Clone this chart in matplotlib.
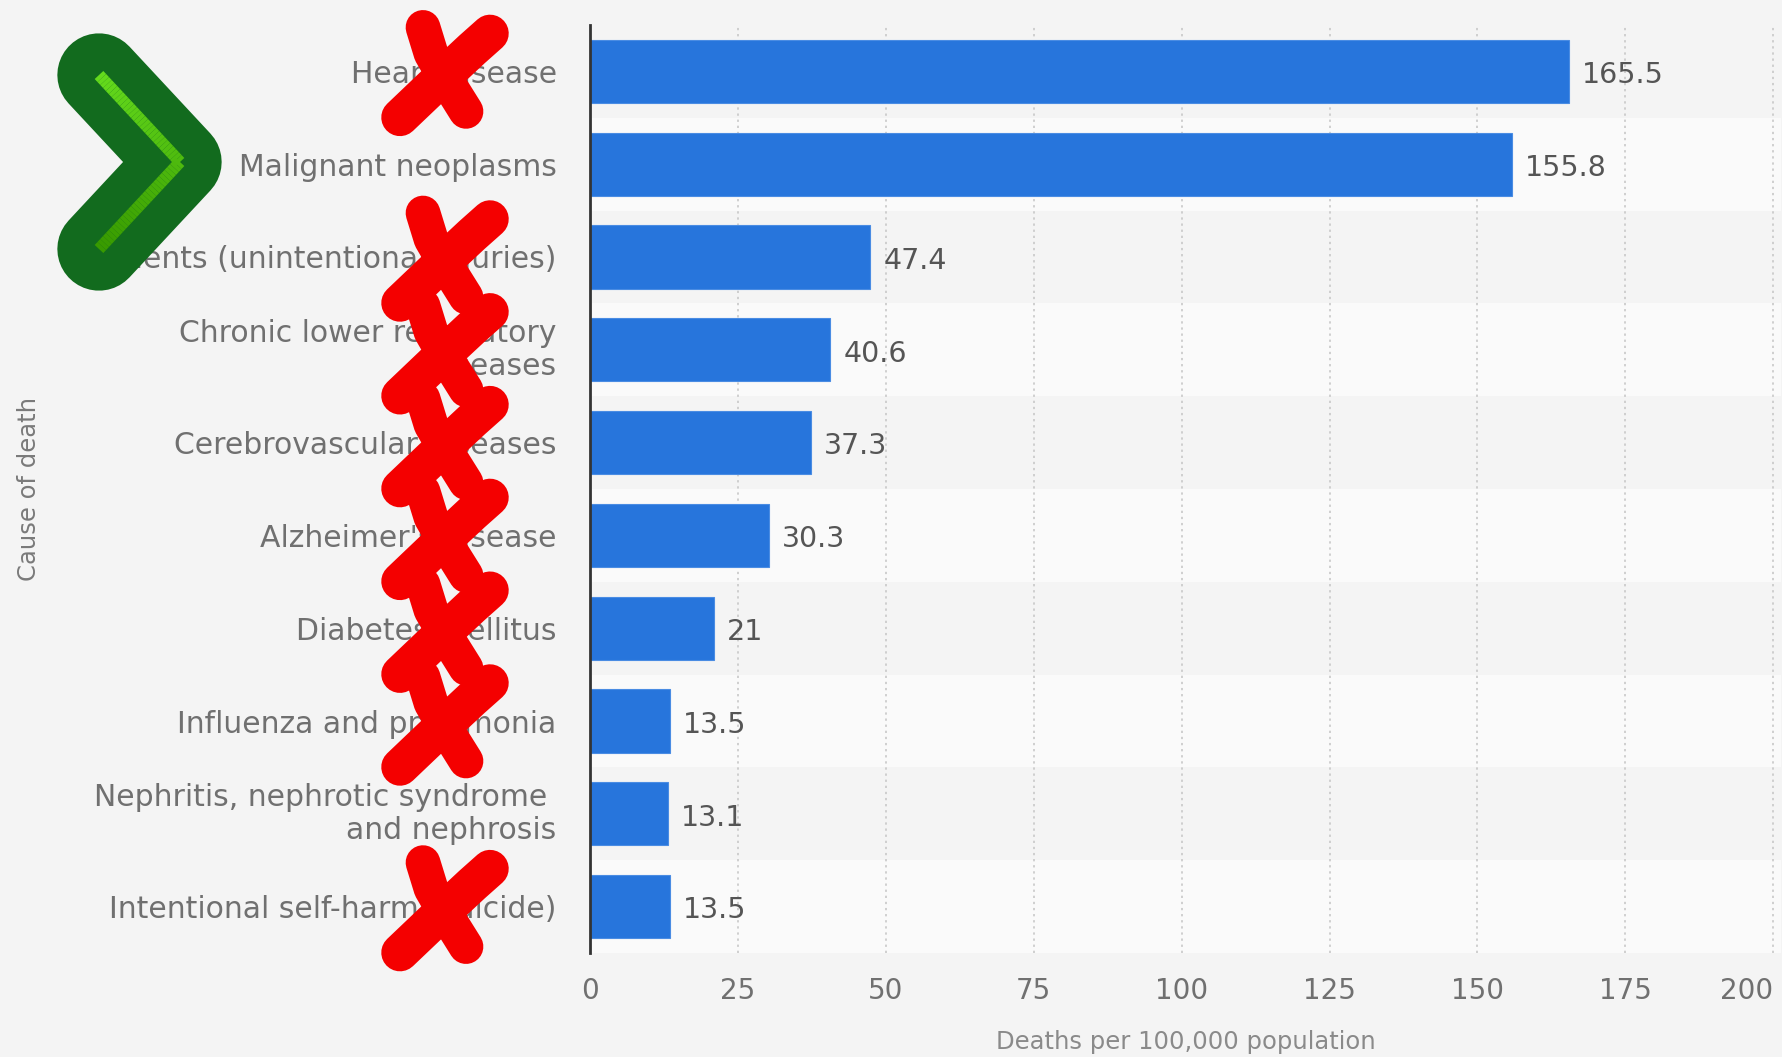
import numpy as np
import matplotlib
matplotlib.use('Agg')
from matplotlib import pyplot as plt
from matplotlib import transforms
from matplotlib.lines import Line2D
from matplotlib.collections import LineCollection

# ------------------------------------------------
# DATA
causes = ['Heart disease',
          'Malignant neoplasms',
          'Accidents (unintentional injuries)',
          'Chronic lower respiratory\ndiseases',
          'Cerebrovascular diseases',
          "Alzheimer's disease",
          'Diabetes mellitus',
          'Influenza and pneumonia',
          'Nephritis, nephrotic syndrome \nand nephrosis',
          'Intentional self-harm (suicide)']
deaths = [165.5, 155.8, 47.4, 40.6, 37.3, 30.3, 21, 13.5, 13.1, 13.5]
value_labels = ['165.5', '155.8', '47.4', '40.6', '37.3', '30.3', '21', '13.5', '13.1', '13.5']
crossed_rows = [0, 2, 3, 4, 5, 6, 7, 9]
x_ticks = [0, 25, 50, 75, 100, 125, 150, 175, 200]

# ------------------------------------------------
# FIGURE
W, H = 1783, 1057
bg = '#f4f4f4'
fig = plt.figure(figsize=(W / 100, H / 100), dpi=100, facecolor=bg)
ax = fig.add_axes([590 / W, (H - 953) / H, (1781 - 590) / W, 928 / H])
ax.set_facecolor(bg)

y = np.arange(len(causes))
for i in y:
    if i % 2 == 1:
        ax.axhspan(i - 0.5, i + 0.5, color='#fafafa', zorder=0, lw=0)

ax.barh(y, deaths, height=0.68, color='#2775dc', edgecolor='#4a8ce3', linewidth=0.8, zorder=3)
for i, (v, s) in enumerate(zip(deaths, value_labels)):
    ax.text(v + 2.2, i + 0.04, s, va='center', ha='left', fontsize=20.5, color='#555555', zorder=4)

ax.set_xlim(0, 201.3)
ax.set_ylim(len(causes) - 0.5, -0.5)
ax.set_xticks(x_ticks)
ax.set_xticklabels([str(t) for t in x_ticks])
ax.get_xticklabels()[-1].set_ha('right')
ax.set_yticks(y)
ax.set_yticklabels(causes)
ax.tick_params(axis='x', length=0, pad=17, labelsize=20, labelcolor='#707070')
ax.tick_params(axis='y', length=0, pad=24, labelsize=21.5, labelcolor='#707070')
# two-line labels sit a little higher
for lab in ax.get_yticklabels():
    if '\n' in lab.get_text():
        lab.set_transform(lab.get_transform() +
                          transforms.ScaledTranslation(0, 5 / 100, fig.dpi_scale_trans))
ax.grid(axis='x', linestyle=(0, (1.5, 2.5)), color='#c4c4c4', linewidth=1.1, zorder=1)
ax.set_axisbelow(True)
for side in ['top', 'right', 'bottom']:
    ax.spines[side].set_visible(False)
ax.spines['left'].set_color('#333333')
ax.spines['left'].set_linewidth(2)
ax.spines['left'].set_zorder(5)

ax.set_xlabel('Deaths per 100,000 population', fontsize=17.5, color='#8a8a8a', labelpad=18)
fig.text(29 / W, 1 - 489 / H, 'Cause of death', rotation=90, va='center', ha='center',
         fontsize=17.5, color='#7a7a7a')

# ------------------------------------------------
# RED CROSSES OVER LABELS (brush-like X, drawn in pixel offsets)
mix = transforms.blended_transform_factory(fig.transFigure, ax.transData)
stroke_a = np.array([[-21, -46], [-13, -20], [2, 6], [22, 38]])
stroke_b = np.array([[-44, 44], [-2, 4], [28, -24], [46, -40]])
for r in crossed_rows:
    cx, cy = mix.transform((444 / W, r))
    cy -= 2
    for st, lw in [(stroke_a, 25), (stroke_b, 27)]:
        xs = cx + st[:, 0]
        ys = cy - st[:, 1]
        fig.add_artist(Line2D(xs, ys, color='#f40000', lw=lw, solid_capstyle='round',
                              solid_joinstyle='round', transform=transforms.IdentityTransform(),
                              zorder=10))

# ------------------------------------------------
# GREEN CHEVRON
def fp(px, py):
    return px / W, 1 - py / H

pts = [fp(99, 75), fp(180, 162), fp(99, 249)]
fig.add_artist(Line2D([p[0] for p in pts], [p[1] for p in pts], color='#126b1e', lw=60,
                      solid_capstyle='round', solid_joinstyle='round', transform=fig.transFigure))
n = 30
path = np.vstack([np.linspace(pts[0], pts[1], n), np.linspace(pts[1], pts[2], n)[1:]])
segs = [[path[k], path[k + 1]] for k in range(len(path) - 1)]
c1 = np.array(matplotlib.colors.to_rgb('#64da1c'))
c2 = np.array(matplotlib.colors.to_rgb('#389a00'))
cols = [c1 + (c2 - c1) * k / (len(segs) - 1) for k in range(len(segs))]
lc = LineCollection(segs, colors=cols, linewidths=8.5, capstyle='butt', joinstyle='round',
                    transform=fig.transFigure)
fig.add_artist(lc)

fig.savefig('out.png', dpi=100, facecolor=bg)
